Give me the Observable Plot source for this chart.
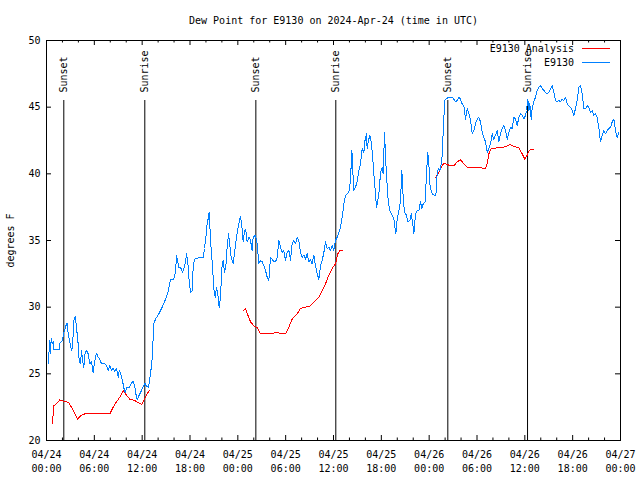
<!DOCTYPE html>
<html><head><meta charset="utf-8">
<script src="https://cdn.jsdelivr.net/npm/d3@7"></script>
<script src="https://cdn.jsdelivr.net/npm/@observablehq/plot@0.6"></script>
<style>
body{margin:0;background:#fff}
#wrap{position:relative;width:640px;height:480px}
.lg-text{position:absolute;font:10px "DejaVu Sans Mono";color:#000;white-space:pre;text-align:right;line-height:10px}
.lg-line{position:absolute;height:1px}
</style>
</head><body><div id="wrap"></div>
<script>
const title = "Dew Point for E9130 on 2024-Apr-24 (time in UTC)";
const yLabel = "degrees F";
const startTime = "2024-04-24T00:00:00Z";
const endHours = 72;
const seriesNames = ["E9130 Analysis", "E9130"];
const seriesColors = ["#ff0000", "#0080ff"];

// Observed dew point (hours since start, degrees F)
const blueHours = [0.21,0.42,0.50,0.59,0.75,0.84,0.92,1.59,1.67,1.88,2.01,2.17,2.43,2.59,2.72,2.93,3.14,3.26,3.43,3.60,3.76,3.97,4.10,4.26,4.39,4.52,4.68,4.85,5.02,5.23,5.44,5.64,5.85,6.06,6.27,6.48,6.69,6.90,7.32,7.53,7.74,7.94,8.15,8.36,8.57,8.78,8.99,9.12,9.28,9.53,9.70,9.87,10.04,10.37,10.66,10.87,11.08,11.21,11.37,11.62,11.92,12.13,12.33,12.54,12.80,13.05,13.26,13.46,13.67,14.09,14.51,14.93,15.22,15.55,15.97,16.18,16.31,16.47,16.60,16.81,17.06,17.23,17.44,17.56,17.73,17.85,18.06,18.27,18.40,18.56,19.11,19.65,19.82,19.99,20.15,20.32,20.40,20.49,20.66,20.82,20.99,21.16,21.32,21.49,21.66,21.83,21.99,22.16,22.33,22.50,22.66,22.83,23.00,23.16,23.42,23.67,23.92,24.17,24.34,24.54,24.67,24.84,25.00,25.17,25.42,25.59,25.80,25.92,26.22,26.43,26.63,26.84,27.05,27.26,27.47,27.68,27.89,28.10,28.31,28.52,28.73,28.94,29.14,29.35,29.56,29.77,29.98,30.19,30.40,30.61,30.81,31.02,31.23,31.44,31.65,31.86,32.07,32.28,32.49,32.70,32.90,33.11,33.32,33.53,33.74,33.95,34.16,34.37,34.58,34.79,35.00,35.20,35.41,35.62,35.83,36.04,36.25,36.46,36.67,36.88,37.09,37.30,37.51,37.71,37.92,38.13,38.30,38.38,38.47,38.55,38.76,38.97,39.18,39.39,39.60,39.81,39.97,40.14,40.22,40.39,40.56,40.72,40.89,41.06,41.23,41.39,41.56,41.73,41.90,42.11,42.23,42.40,42.53,42.65,42.82,42.98,43.15,43.36,43.57,43.82,43.99,44.20,44.41,44.57,44.74,44.91,45.16,45.32,45.58,45.74,45.91,46.08,46.29,46.50,46.71,46.91,47.08,47.25,47.50,47.67,47.83,47.96,48.08,48.25,48.42,48.67,48.84,49.00,49.17,49.34,49.51,49.67,49.76,49.84,49.92,50.04,50.47,50.89,51.10,51.30,51.51,51.72,51.93,52.14,52.35,52.56,52.77,52.98,53.19,53.40,53.60,53.81,54.02,54.23,54.44,54.65,54.86,55.07,55.28,55.49,55.70,55.90,56.11,56.32,56.53,56.74,56.95,57.16,57.37,57.58,57.79,58.00,58.20,58.41,58.62,58.83,59.04,59.25,59.46,59.67,59.88,60.09,60.21,60.38,60.51,60.63,60.80,60.92,61.13,61.34,61.55,61.76,61.97,62.18,62.39,62.59,62.80,63.01,63.22,63.43,63.64,63.85,64.06,64.27,64.48,64.69,64.89,65.10,65.31,65.52,65.73,65.94,66.15,66.36,66.57,66.78,66.98,67.19,67.40,67.61,67.82,68.03,68.24,68.45,68.66,68.87,69.08,69.29,69.49,69.70,69.91,70.12,70.33,70.54,70.75,70.96,71.17,71.37,71.58,71.79];
const blueValues = [25.75,27.5,26.5,27.65,27.25,27.4,26.8,26.8,27.3,27.4,27.5,28.1,28.6,28.8,28.0,27.4,26.75,27.0,29.0,29.3,28.5,27.25,26.0,25.75,26.75,26.0,25.5,26.6,26.75,26.5,25.75,25.9,25.1,26.0,26.55,26.25,26.1,25.75,25.75,25.6,25.25,25.6,25.25,25.4,25.2,25.4,24.75,25.25,25.1,24.5,23.95,23.6,23.95,23.95,24.3,24.45,24.0,23.5,23.05,23.4,23.75,24.05,24.3,24.05,24.0,25.0,26.15,28.75,29.1,29.5,30.0,30.6,31.1,32.05,32.1,32.6,33.9,33.4,33.0,33.0,32.6,32.9,33.4,34.0,33.4,32.25,31.1,31.2,33.0,33.6,33.7,33.7,34.4,35.25,36.25,36.75,37.1,36.1,34.25,33.1,31.4,30.75,31.5,31.0,30.0,30.75,32.9,33.5,32.6,33.1,34.5,35.5,34.6,33.75,33.25,34.5,35.6,36.4,36.8,35.9,34.9,35.75,35.8,34.9,35.25,35.0,34.25,35.25,35.4,34.75,33.25,33.5,33.4,33.1,32.75,32.25,32.0,33.75,33.6,33.4,33.4,33.75,35.0,34.5,34.1,34.25,33.5,34.1,34.25,33.5,34.75,35.0,34.75,35.25,35.0,34.1,33.75,33.9,33.6,34.0,33.4,33.6,33.25,33.9,33.1,32.5,32.1,33.1,33.5,34.1,34.9,34.4,34.5,34.25,34.6,34.25,35.0,35.25,35.6,36.0,36.75,37.75,38.4,38.5,38.6,39.5,41.75,41.0,39.5,38.75,39.0,39.4,40.25,40.75,41.9,41.6,42.6,43.0,41.9,42.5,42.9,42.4,41.5,40.0,38.75,37.5,38.0,38.75,40.1,40.5,40.0,43.1,41.25,39.9,38.25,37.5,37.1,36.9,36.6,35.5,36.6,37.25,38.0,40.25,38.25,37.1,36.9,36.4,36.5,37.0,36.4,35.5,37.0,37.25,37.25,37.9,37.4,37.75,37.9,40.1,41.6,40.75,39.25,38.75,38.45,38.4,38.4,40.0,40.4,40.25,40.75,41.6,43.25,44.0,45.4,45.6,45.75,45.75,45.6,45.4,45.5,45.75,45.6,45.25,45.1,44.1,44.9,44.5,44.0,43.0,43.25,43.75,44.1,44.25,43.9,43.1,42.75,42.4,41.6,41.9,42.25,43.0,42.6,42.9,43.25,42.4,43.0,43.4,43.6,43.25,42.6,43.1,43.5,43.4,44.25,44.1,43.6,44.25,44.5,44.4,44.1,44.4,44.75,45.6,44.75,45.25,44.1,44.9,45.4,45.75,46.25,46.5,46.6,46.4,46.25,46.1,46.0,46.1,46.4,46.6,46.1,45.5,45.4,45.5,45.4,45.6,45.5,45.75,45.25,45.1,45.0,44.75,44.4,44.9,45.5,46.5,46.6,46.0,44.9,44.9,45.1,45.0,44.6,44.75,44.4,44.5,44.25,43.4,42.4,42.9,43.25,43.0,43.25,43.4,43.5,43.9,44.1,43.25,42.75,43.1];

// Analysis dew point (null = gap)
const redHours = [0.75,0.92,1.25,1.67,2.09,2.51,2.84,3.35,3.89,4.39,4.81,6.27,7.94,8.36,8.78,9.20,9.62,10.04,10.45,11.08,11.62,11.92,12.21,12.54,12.88,18,24.75,24.96,25.17,25.38,25.59,26.01,26.43,26.84,28.10,28.73,29.35,29.98,30.40,30.81,31.44,31.86,32.49,33.11,33.74,34.16,34.58,35.00,35.41,35.83,36.25,36.54,36.79,37.09,43,48.80,49.21,49.63,49.84,50.26,50.68,51.10,51.51,51.93,52.35,52.77,53.60,54.44,55.07,55.28,55.49,55.78,56.53,57.37,57.79,58.20,58.62,59.25,59.67,60.00,60.29,60.51,60.71,61.05];
const redValues = [21.3,22.6,22.75,23.05,22.95,22.9,22.8,22.25,21.6,21.9,22.0,22.0,22.0,22.5,22.9,23.25,23.75,23.4,23.1,23.0,22.8,22.7,23.0,23.4,23.75,null,29.75,29.9,29.5,29.25,28.9,28.6,28.45,28.0,28.0,28.1,28.05,28.0,28.5,29.1,29.5,29.9,30.0,30.1,30.5,30.75,31.25,31.75,32.4,32.9,33.25,34.0,34.25,34.25,null,39.7,40.1,40.6,40.8,40.7,40.6,40.6,40.9,41.05,40.75,40.5,40.5,40.45,40.4,40.75,41.5,41.9,41.95,42.0,42.1,42.2,42.05,41.95,41.5,41.1,41.4,41.7,41.8,41.8];

// Sunset / sunrise markers
const eventHours = [2.17, 12.33, 26.26, 36.29, 50.34, 60.34];
const eventLabels = ["Sunset", "Sunrise", "Sunset", "Sunrise", "Sunset", "Sunrise"];

// Ticks
const xMajorHours = [0,6,12,18,24,30,36,42,48,54,60,66,72];
const xMinorHours = [2,4,8,10,14,16,20,22,26,28,32,34,38,40,44,46,50,52,56,58,62,64,68,70];
const yTicks = [20,25,30,35,40,45,50];

const t0 = new Date(startTime).getTime();
const toDate = h => new Date(t0 + h * 3600e3);
const blue = blueHours.map((h, i) => ({time: toDate(h), value: blueValues[i]}));
const red = redHours.map((h, i) => ({time: toDate(h), value: redValues[i]}));
const events = eventHours.map((h, i) => ({time: toDate(h), label: eventLabels[i]}));
const xMajor = xMajorHours.map(toDate);
const xMinor = xMinorHours.map(toDate);
const fmt = d3.utcFormat("%m/%d\n%H:%M");

const FONT = "DejaVu Sans Mono";
const W = 640, H = 480, ML = 46, MR = 20, MT = 40, MB = 40;

const chart = Plot.plot({
  width: W,
  height: H,
  marginLeft: ML,
  marginRight: MR,
  marginTop: MT,
  marginBottom: MB,
  style: {fontFamily: FONT, fontSize: "10px", background: "white", color: "black"},
  x: {type: "utc", domain: [toDate(0), toDate(endHours)]},
  y: {domain: [20, 50]},
  marks: [
    Plot.axisX(xMajor, {tickSize: 0, tickPadding: 8, tickFormat: fmt, lineHeight: 1.4, label: null}),
    Plot.axisY(yTicks, {tickSize: 0, tickPadding: 6, label: null}),
    Plot.tickX(xMajor, {x: d => d, insetTop: 395, stroke: "black"}),
    Plot.tickX(xMajor, {x: d => d, insetBottom: 395, stroke: "black"}),
    Plot.tickX(xMinor, {x: d => d, insetTop: 397.5, stroke: "black"}),
    Plot.tickX(xMinor, {x: d => d, insetBottom: 397.5, stroke: "black"}),
    Plot.tickY(yTicks, {y: d => d, insetRight: 569, stroke: "black"}),
    Plot.tickY(yTicks, {y: d => d, insetLeft: 569, stroke: "black"}),
    Plot.ruleX(events, {x: "time", insetTop: 60, stroke: "black", strokeWidth: 1}),
    Plot.text(events, {x: "time", text: "label", frameAnchor: "top", dy: 52, rotate: -90,
      textAnchor: "start", lineAnchor: "middle", fill: "black"}),
    Plot.line(red, {x: "time", y: "value", stroke: seriesColors[0], strokeWidth: 1, shapeRendering: "crispEdges"}),
    Plot.line(blue, {x: "time", y: "value", stroke: seriesColors[1], strokeWidth: 1, shapeRendering: "crispEdges"}),
    Plot.frame({stroke: "black"}),
    Plot.text([title], {text: d => d, frameAnchor: "top", dy: -20, lineAnchor: "middle", fill: "black"}),
    Plot.text([yLabel], {text: d => d, frameAnchor: "left", dx: -36, rotate: -90, textAnchor: "middle", lineAnchor: "middle", fill: "black"})
  ]
});
const wrap = document.getElementById("wrap");
wrap.appendChild(chart);

// Legend (top-right, inside the frame)
const right = W - MR;
seriesNames.forEach((name, i) => {
  const y = MT + 9 + i * 14;
  const t = document.createElement("div");
  t.className = "lg-text";
  t.textContent = name;
  t.style.right = (W - (right - 46)) + "px";
  t.style.top = (y - 5) + "px";
  wrap.appendChild(t);
  const l = document.createElement("div");
  l.className = "lg-line";
  l.style.left = (right - 38) + "px";
  l.style.width = "28px";
  l.style.top = (y - 1) + "px";
  l.style.background = seriesColors[i];
  wrap.appendChild(l);
});
</script>
</body></html>
